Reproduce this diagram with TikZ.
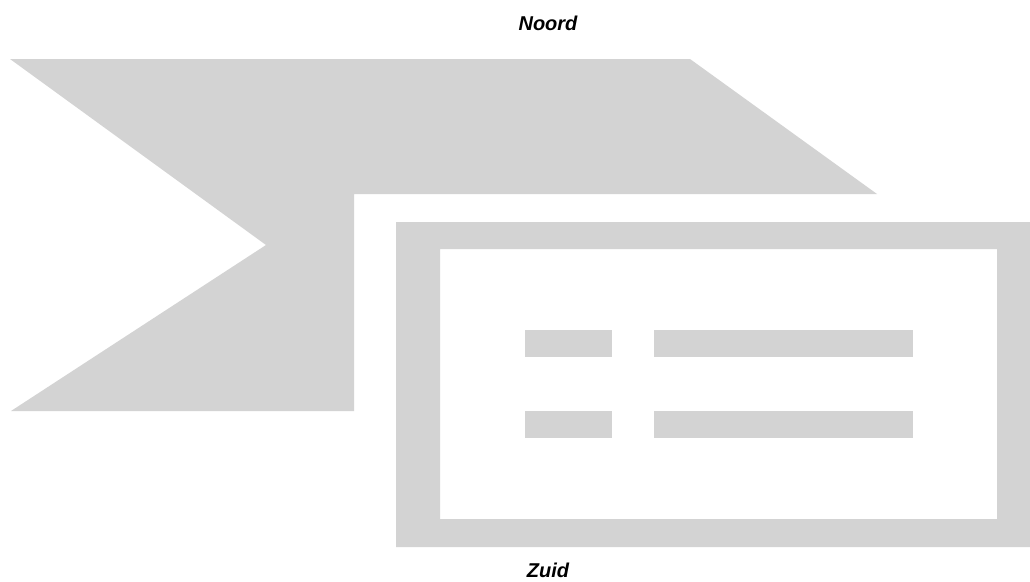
\documentclass[tikz,border=0pt]{standalone}
\usepackage{fontspec}
\setmainfont{Liberation Sans}
\definecolor{shapegray}{RGB}{211,211,211}
\begin{document}
\begin{tikzpicture}[x=1pt,y=-1pt,
  shapefill/.style={fill=shapegray,draw=none},
  label/.style={font=\fontsize{20}{24}\selectfont\bfseries\itshape,inner sep=0pt,anchor=base}]
\useasboundingbox (0,0) rectangle (1030,581);
% arrow-like shape
\fill[shapegray] (10,59) -- (690,59) -- (877,194) -- (354,194) -- (354,411) -- (11,411) -- (266,245) -- cycle;
% frame
\fill[shapegray,even odd rule] (396,222) rectangle (1030,547) (440,249) rectangle (997,519);
% bars
\fill[shapegray] (525,330) rectangle (612,357);
\fill[shapegray] (654,330) rectangle (913,357);
\fill[shapegray] (525,411) rectangle (612,438);
\fill[shapegray] (654,411) rectangle (913,438);
% labels
\node[label] (noord) at (548,30) {Noord};
\node[label] (zuid) at (548,577.5) {Zuid};
\end{tikzpicture}
\end{document}
